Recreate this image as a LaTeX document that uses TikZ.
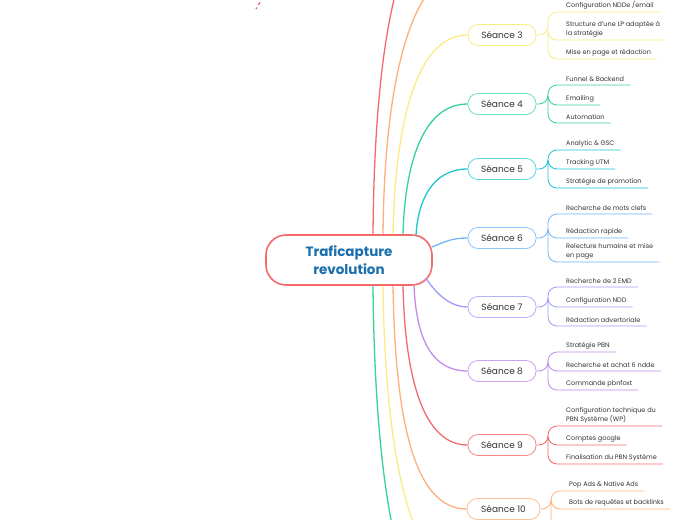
\documentclass[tikz,border=0pt]{standalone}
\usepackage{fontspec}
\setmainfont{Poppins}
\usepackage{tikz}
\usetikzlibrary{positioning}
\usepackage{xcolor}
\definecolor{mmred}{HTML}{F46A6A}
\definecolor{mmorange}{HTML}{FDB07E}
\definecolor{mmyellow}{HTML}{F8EC83}
\definecolor{mmgreen}{HTML}{33D39B}
\definecolor{mmcyan}{HTML}{1CC6D3}
\definecolor{mmblue}{HTML}{72B6F8}
\definecolor{mmindigo}{HTML}{9E9DFB}
\definecolor{mmpurple}{HTML}{C38BEA}
\definecolor{mmpink}{HTML}{E8417A}
\definecolor{rootblue}{HTML}{1B6EAE}
\definecolor{txtgrey}{HTML}{333333}

\begin{document}
\begin{tikzpicture}[x=1pt, y=-1pt,
  root/.style={rectangle, draw=mmred, fill=white, line width=1.6pt,
    rounded corners=20pt, minimum width=166pt, minimum height=50pt,
    align=center, text=rootblue,
    font=\fontsize{13.5}{18}\selectfont\bfseries},
  seance/.style={rectangle, fill=white, line width=0.8pt,
    rounded corners=10pt, minimum width=68pt, minimum height=21pt,
    text=txtgrey, font=\fontsize{9}{10}\selectfont},
  item/.style={anchor=south west, inner xsep=0pt, inner ysep=3pt,
    align=left, text=txtgrey, font=\fontsize{6.5}{9}\selectfont},
  branch/.style={line width=1.3pt},
  twig/.style={line width=0.8pt, rounded corners=9pt}
]
  \useasboundingbox[fill=white] (0,0) rectangle (697,520);
  \clip (0,0) rectangle (697,520);

  % centre
  \node[root] (root) at (349,260) {Traficapture\\revolution};

  % seances
  \node[seance, draw=mmyellow]          (s3)  at (502,35)    {Séance 3};
  \node[seance, draw=mmgreen!70]        (s4)  at (502,104)   {Séance 4};
  \node[seance, draw=mmcyan!70]         (s5)  at (502,169)   {Séance 5};
  \node[seance, draw=mmblue!80]         (s6)  at (502,238)   {Séance 6};
  \node[seance, draw=mmindigo!80]       (s7)  at (502,307)   {Séance 7};
  \node[seance, draw=mmpurple!80]       (s8)  at (502,371)   {Séance 8};
  \node[seance, draw=mmred!80]          (s9)  at (502,445)   {Séance 9};
  \node[seance, draw=mmorange!80, minimum width=73pt]
                                        (s10) at (503.5,509) {Séance 10};
  \coordinate (s1)  at (468,-100);
  \coordinate (s2)  at (468,-32);
  \coordinate (s11) at (468,578);
  \coordinate (s12) at (468,645);

  % branches
  \draw[branch, mmred]    ([xshift=24pt]root.north) .. controls +(2,-235) and +(-58,0) .. (s1);
  \draw[branch, mmorange] ([xshift=34pt]root.north) .. controls +(2,-195) and +(-43,0) .. (s2);
  \draw[branch, mmyellow] ([xshift=44pt]root.north) .. controls +(2,-105) and +(-53,0) .. (s3.west);
  \draw[branch, mmgreen]  ([xshift=54pt]root.north) .. controls +(2,-70) and +(-45,0) .. (s4.west);
  \draw[branch, mmcyan]   ([xshift=67pt,yshift=-1pt]root.north) .. controls +(2,-35) and +(-35,0) .. (s5.west);
  \draw[branch, mmblue]   ([xshift=-1pt,yshift=13pt]root.east) .. controls +(15,-6) and +(-15,0) .. (s6.west);
  \draw[branch, mmindigo] ([xshift=-7pt,yshift=-18pt]root.east) .. controls +(8,12) and +(-20,0) .. (s7.west);
  \draw[branch, mmpurple] ([xshift=65pt]root.south) .. controls +(2,45) and +(-40,0) .. (s8.west);
  \draw[branch, mmred]    ([xshift=54pt]root.south) .. controls +(2,90) and +(-45,0) .. (s9.west);
  \draw[branch, mmorange] ([xshift=44pt]root.south) .. controls +(2,125) and +(-55,0) .. (s10.west);
  \draw[branch, mmyellow] ([xshift=34pt]root.south) .. controls +(2,160) and +(-60,0) .. (s11);
  \draw[branch, mmgreen]  ([xshift=24pt]root.south) .. controls +(2,205) and +(-68,0) .. (s12);

  % dashed link coming from above
  \coordinate (lk1) at (266,-8);
  \coordinate (lk2) at (256,9);
  \draw[mmpink, line width=1pt, dashed] (lk1) -- (lk2);

  % items
  \node[item] (c3a)  at (566,12)  {Configuration NDDe /email};
  \node[item] (c3b)  at (566,40)  {Structure d'une LP adaptée à\\la stratégie};
  \node[item] (c3c)  at (566,59)  {Mise en page et rédaction};
  \node[item] (c4a)  at (566,85)  {Funnel \& Backend};
  \node[item] (c4b)  at (566,105) {Emailing};
  \node[item] (c4c)  at (566,123) {Automation};
  \node[item] (c5a)  at (566,150) {Analytic \& GSC};
  \node[item] (c5b)  at (566,169) {Tracking UTM};
  \node[item] (c5c)  at (566,188) {Stratégie de promotion};
  \node[item] (c6a)  at (566,214) {Recherche de mots clefs};
  \node[item] (c6b)  at (566,238) {Rédaction rapide};
  \node[item] (c6c)  at (566,262) {Relecture humaine et mise\\en page};
  \node[item] (c7a)  at (566,287) {Recherche de 2 EMD};
  \node[item] (c7b)  at (566,307) {Configuration NDD};
  \node[item] (c7c)  at (566,326) {Rédaction advertoriale};
  \node[item] (c8a)  at (566,352) {Stratégie PBN};
  \node[item] (c8b)  at (566,371) {Recherche et achat 6 ndde};
  \node[item] (c8c)  at (566,390) {Commande pbnfoxt};
  \node[item] (c9a)  at (566,426) {Configuration technique du\\PBN Système (WP)};
  \node[item] (c9b)  at (566,445) {Comptes google};
  \node[item] (c9c)  at (566,464) {Finalisation du PBN Système};
  \node[item] (c10a) at (569,491) {Pop Ads \& Native Ads};
  \node[item] (c10b) at (569,509) {Bots de requêtes et backlinks};
  \coordinate (c10c) at (569,528);

  % junctions
  \coordinate (j3)  at (548,35);
  \coordinate (j4)  at (548,104);
  \coordinate (j5)  at (548,169);
  \coordinate (j6)  at (548,238);
  \coordinate (j7)  at (548,307);
  \coordinate (j8)  at (548,371);
  \coordinate (j9)  at (548,445);
  \coordinate (j10) at (551,509);

  % twigs
  \draw[twig, mmyellow] (s3) -- (j3) |- (c3a.south west) -- ([xshift=7pt]c3a.south east);
  \draw[twig, mmyellow] (j3) |- (c3b.south west) -- ([xshift=5pt]c3b.south east);
  \draw[twig, mmyellow] (j3) |- (c3c.south west) -- ([xshift=6pt]c3c.south east);
  \draw[twig, mmgreen]  (s4) -- (j4) |- (c4a.south west) -- ([xshift=6pt]c4a.south east);
  \draw[twig, mmgreen]  (j4) |- (c4b.south west) -- ([xshift=6pt]c4b.south east);
  \draw[twig, mmgreen]  (j4) |- (c4c.south west) -- ([xshift=6pt]c4c.south east);
  \draw[twig, mmcyan]   (s5) -- (j5) |- (c5a.south west) -- ([xshift=6pt]c5a.south east);
  \draw[twig, mmcyan]   (j5) |- (c5b.south west) -- ([xshift=6pt]c5b.south east);
  \draw[twig, mmcyan]   (j5) |- (c5c.south west) -- ([xshift=6pt]c5c.south east);
  \draw[twig, mmblue]   (s6) -- (j6) |- (c6a.south west) -- ([xshift=6pt]c6a.south east);
  \draw[twig, mmblue]   (j6) |- (c6b.south west) -- ([xshift=6pt]c6b.south east);
  \draw[twig, mmblue]   (j6) |- (c6c.south west) -- ([xshift=6pt]c6c.south east);
  \draw[twig, mmindigo] (s7) -- (j7) |- (c7a.south west) -- ([xshift=6pt]c7a.south east);
  \draw[twig, mmindigo] (j7) |- (c7b.south west) -- ([xshift=6pt]c7b.south east);
  \draw[twig, mmindigo] (j7) |- (c7c.south west) -- ([xshift=6pt]c7c.south east);
  \draw[twig, mmpurple] (s8) -- (j8) |- (c8a.south west) -- ([xshift=6pt]c8a.south east);
  \draw[twig, mmpurple] (j8) |- (c8b.south west) -- ([xshift=6pt]c8b.south east);
  \draw[twig, mmpurple] (j8) |- (c8c.south west) -- ([xshift=6pt]c8c.south east);
  \draw[twig, mmred]    (s9) -- (j9) |- (c9a.south west) -- ([xshift=6pt]c9a.south east);
  \draw[twig, mmred]    (j9) |- (c9b.south west) -- ([xshift=6pt]c9b.south east);
  \draw[twig, mmred]    (j9) |- (c9c.south west) -- ([xshift=6pt]c9c.south east);
  \draw[twig, mmorange] (s10) -- (j10) |- (c10a.south west) -- ([xshift=6pt]c10a.south east);
  \draw[twig, mmorange] (j10) |- (c10b.south west) -- ([xshift=6pt]c10b.south east);
  \draw[twig, mmorange] (j10) |- (c10c) -- ++(80,0);
\end{tikzpicture}
\end{document}
